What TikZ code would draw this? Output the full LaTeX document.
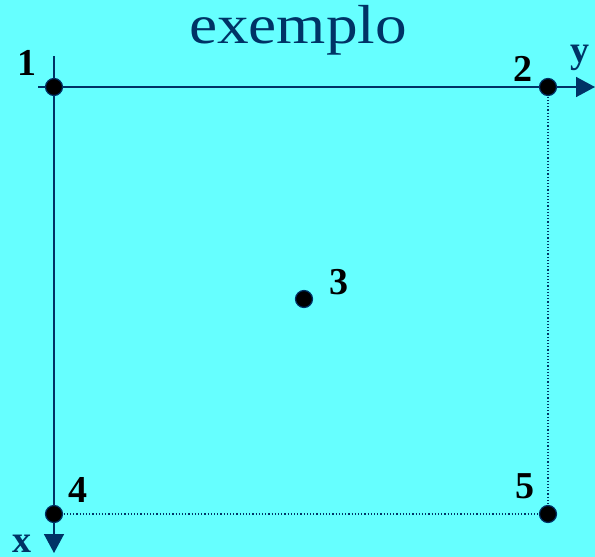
\documentclass[tikz,border=0pt]{standalone}
\usepackage{fontspec}
\setmainfont{Liberation Serif}
\usetikzlibrary{arrows.meta}
\definecolor{bg}{RGB}{102,255,255}
\definecolor{navy}{RGB}{0,51,102}
\tikzset{
  dot/.style={circle, fill=black, draw=navy, line width=1.2pt, minimum size=17pt, inner sep=0pt},
  axis/.style={draw=navy, line width=1.6pt, -{Triangle[length=19pt,width=20pt]}},
  guide/.style={draw=navy, line width=1.2pt, dotted},
  lab/.style={font=\bfseries\fontsize{38}{38}\selectfont, text=black, inner sep=0pt},
  axlab/.style={font=\bfseries\fontsize{38}{38}\selectfont, text=navy, inner sep=0pt},
  title/.style={font=\fontsize{55}{55}\selectfont, text=navy, inner sep=0pt, anchor=base, xscale=1.15}
}
\begin{document}
\begin{tikzpicture}[x=1pt,y=-1pt]
\fill[bg] (0,0) rectangle (595,557);
\useasboundingbox (0,0) rectangle (595,557);
\node[title] (t) at (298,43) {exemplo};
\coordinate (ys) at (38,87);
\coordinate (ye) at (595,87);
\coordinate (xs) at (54,56);
\coordinate (xe) at (54,553);
\coordinate (c2) at (548,87);
\coordinate (c4) at (54,514);
\coordinate (c5) at (548,514);
\draw[guide] (c2) -- (c5);
\draw[guide] (c4) -- (c5);
\draw[axis] (ys) -- (ye);
\draw[axis] (xs) -- (xe);
\node[dot] (p1) at (54,87) {};
\node[dot] (p2) at (548,87) {};
\node[dot] (p3) at (304,299) {};
\node[dot] (p4) at (54,514) {};
\node[dot] (p5) at (548,514) {};
\node[lab] (l1) at (27,63) {1};
\node[lab] (l2) at (523,69) {2};
\node[lab] (l3) at (339,282) {3};
\node[lab] (l4) at (78,490) {4};
\node[lab] (l5) at (525,486) {5};
\node[axlab] (ly) at (580,58) {y};
\node[axlab] (lx) at (22,544) {x};
\end{tikzpicture}
\end{document}
